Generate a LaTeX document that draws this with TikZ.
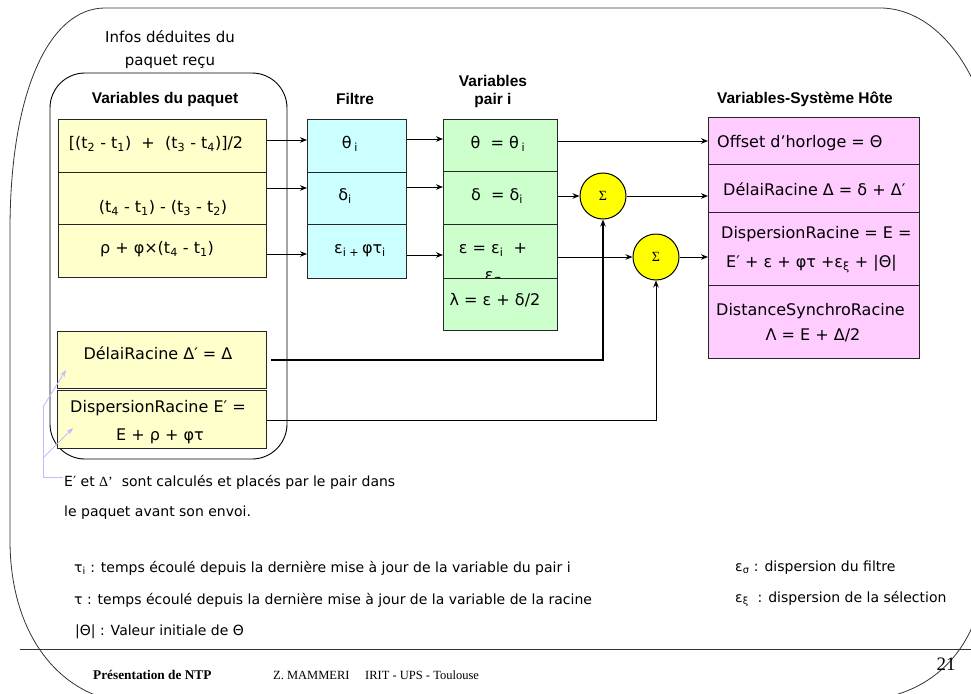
\documentclass[tikz,border=0pt]{standalone}
\usepackage{fontspec}
\setmainfont{DejaVu Sans}
\newfontfamily\hdfont{Liberation Sans}
\newfontfamily\tmfont{Liberation Serif}
\usetikzlibrary{arrows.meta}
\definecolor{ylw}{HTML}{FFFFCC}
\definecolor{cyn}{HTML}{CCFFFF}
\definecolor{grn}{HTML}{CCFFCC}
\definecolor{pnk}{HTML}{FFCCFF}
\definecolor{sumy}{HTML}{FFFF00}
\definecolor{lav}{HTML}{BDBDFF}
\newcommand\sbs[1]{\textsubscript{#1}}
\begin{document}
\begin{tikzpicture}[x=1pt,y=-1pt,
  cell/.style={draw=black!85, line width=1.1pt, anchor=north west, inner sep=0pt},
  tx/.style={inner sep=0pt, text height=11.2pt, text depth=0pt, font=\fontsize{16}{19}\selectfont},
  note/.style={inner sep=0pt, text height=10pt, text depth=0pt, anchor=west, font=\fontsize{14}{17}\selectfont},
  hd/.style={inner sep=0pt, text height=11pt, text depth=0pt, font=\hdfont\bfseries\fontsize{15.5}{18}\selectfont},
  sumnode/.style={circle, draw=black, line width=1pt, fill=sumy, minimum size=46pt, inner sep=0pt, font=\tmfont\fontsize{14}{16}\selectfont},
  arr/.style={-{Stealth[length=7pt,width=5.5pt]}, line width=0.9pt},
  lavarr/.style={draw=lav, line width=0.9pt, -{Stealth[length=7pt,width=5pt]}},
  frame/.style={draw=black!80, line width=0.8pt},
  foot/.style={anchor=west, inner sep=0pt, text height=9pt, text depth=0pt}]
\useasboundingbox (0,0) rectangle (971,693);

% slide frame and footer rule
\draw[frame] (10,230) .. controls (10,90) and (50,8) .. (105,8) -- (880,8)
  .. controls (920,8) and (955,40) .. (975,85);
\draw[frame] (10,230) -- (10,540) .. controls (10,620) and (45,675) .. (95,695);
\draw[frame] (975,620) .. controls (960,660) and (930,685) .. (895,695);
\draw[frame] (20,649) -- (971,649);

% packet enclosure
\node[tx, font=\fontsize{15}{18}\selectfont] (infoA) at (170,37) {Infos déduites du};
\node[tx, font=\fontsize{15}{18}\selectfont] (infoB) at (170,60) {paquet reçu};
\draw[line width=0.9pt, rounded corners=35pt] (50,73) rectangle (287,459);

% column headers
\node[hd] (hpaq) at (165,98) {Variables du paquet};
\node[hd] (hfil) at (355,99) {Filtre};
\node[hd] (hpa1) at (493,81) {Variables};
\node[hd] (hpa2) at (493,99) {pair i};
\node[hd] (hsys) at (805,98) {Variables-Système Hôte};

% packet variables
\node[cell, fill=ylw, minimum width=208pt, minimum height=53pt] (y1) at (58,119) {};
\node[cell, fill=ylw, minimum width=208pt, minimum height=52pt] (y2) at (58,172) {};
\node[cell, fill=ylw, minimum width=208pt, minimum height=53pt] (y3) at (58,224) {};
\node[tx] (ty1) at (156,143) {[(t\sbs{2} - t\sbs{1})\ \ +\ \ (t\sbs{3} - t\sbs{4})]/2};
\node[tx] (ty2) at (163,207) {(t\sbs{4} - t\sbs{1}) - (t\sbs{3} - t\sbs{2})};
\node[tx] (ty3) at (157,248) {ρ + φ×(t\sbs{4} - t\sbs{1})};

\node[cell, fill=ylw, minimum width=209pt, minimum height=57pt] (ya) at (57,331) {};
\node[cell, fill=ylw, minimum width=209pt, minimum height=58pt] (yb) at (57,390) {};
\node[tx] (tya) at (158,354) {DélaiRacine Δ′ = Δ};
\node[tx] (tyb1) at (158,407) {DispersionRacine E′ =};
\node[tx] (tyb2) at (160,435) {E + ρ + φτ};

% filter
\node[cell, fill=cyn, minimum width=99pt, minimum height=53pt] (c1) at (307,119) {};
\node[cell, fill=cyn, minimum width=99pt, minimum height=52pt] (c2) at (307,172) {};
\node[cell, fill=cyn, minimum width=99pt, minimum height=54pt] (c3) at (307,224) {};
\node[tx] (tc1) at (350,143) {θ\,\sbs{i}};
\node[tx] (tc2) at (345,195) {δ\sbs{i}};
\node[tx] (tc3) at (360,248) {ε\sbs{i +}\,φτ\sbs{i}};

% peer variables
\node[cell, fill=grn, minimum width=114pt, minimum height=52pt] (g1) at (443,119) {};
\node[cell, fill=grn, minimum width=114pt, minimum height=53pt] (g2) at (443,171) {};
\node[cell, fill=grn, minimum width=114pt, minimum height=54pt] (g3) at (443,224) {};
\node[tx] (tg1) at (498,143) {θ\ \ = θ\,\sbs{i}};
\node[tx] (tg2) at (497,195) {δ\ \ = δ\sbs{i}};
\node[tx] (tg3) at (493,248) {ε = ε\sbs{i}\ \ +};
\node[tx] (tg3b) at (493,275) {ε\sbs{σ}};
\node[cell, fill=grn, minimum width=114pt, minimum height=52pt] (g4) at (443,278) {};
\node[tx] (tg4) at (495,300) {λ = ε + δ/2};

% host system variables
\node[cell, fill=pnk, minimum width=211pt, minimum height=47pt] (p1) at (708,117) {};
\node[cell, fill=pnk, minimum width=211pt, minimum height=48pt] (p2) at (708,164) {};
\node[cell, fill=pnk, minimum width=211pt, minimum height=73pt] (p3) at (708,212) {};
\node[cell, fill=pnk, minimum width=211pt, minimum height=73pt] (p4) at (708,285) {};
\node[tx, anchor=west] (tp1) at (717,142) {Offset d’horloge = Θ};
\node[tx, anchor=west] (tp2) at (723,190) {DélaiRacine Δ = δ + Δ′};
\node[tx, anchor=west] (tp3a) at (721,233) {DispersionRacine = E =};
\node[tx, anchor=west] (tp3b) at (726,262) {E′ + ε + φτ +ε\sbs{ξ} + |Θ|};
\node[tx, anchor=west] (tp4a) at (716,310) {DistanceSynchroRacine};
\node[tx] (tp4b) at (813,335) {Λ = E + Δ/2};

% summing points
\node[sumnode] (s1) at (603,196) {Σ};
\node[sumnode] (s2) at (656,257) {Σ};

% data flow
\draw[arr] (y1.east |- 0,140) -- (c1.west |- 0,140);
\draw[arr] (y2.east |- 0,188) -- (c2.west |- 0,188);
\draw[arr] (y3.east |- 0,254) -- (c3.west |- 0,254);
\draw[arr] (c1.east |- 0,139) -- (g1.west |- 0,139);
\draw[arr] (c2.east |- 0,187) -- (g2.west |- 0,187);
\draw[arr] (c3.east |- 0,255) -- (g3.west |- 0,255);
\draw[arr] (g1.east |- 0,141) -- (p1.west |- 0,141);
\draw[arr] (g2.east |- s1) -- (s1.west);
\draw[arr] (s1.east) -- (p2.west |- s1);
\draw[arr] (g3.east |- s2) -- (s2.west);
\draw[arr] (s2.east) -- (p3.west |- s2);
\draw[arr, line width=2pt, shorten <=4pt] (ya.east |- 0,360) -- (s1 |- 0,360) -- (s1.south);
\draw[arr] (yb.east |- 0,420) -- (s2 |- 0,420) -- (s2.south);

% note on the peer-computed values
\coordinate (lv0) at (63,477);
\coordinate (lv1) at (43,477);
\coordinate (lv2) at (43,407);
\coordinate (lv3) at (43,458);
\coordinate (lvA) at (66,370);
\coordinate (lvB) at (73,428);
\draw[draw=lav, line width=0.9pt] (lv0) -- (lv1) -- (lv2);
\draw[lavarr] (lv2) -- (lvA);
\draw[lavarr] (lv3) -- (lvB);
\node[note] (n1) at (64,481) {E′ et {\tmfont Δ’}\ \ sont calculés et placés par le pair dans};
\node[note] (n2) at (64,511) {le paquet avant son envoi.};

% legend
\node[note] (l1) at (74,567) {τ\sbs{i} : temps écoulé depuis la dernière mise à jour de la variable du pair i};
\node[note] (l2) at (74,599) {τ : temps écoulé depuis la dernière mise à jour de la variable de la racine};
\node[note] (l3) at (75,630) {|Θ| : Valeur initiale de Θ};
\node[note] (l4) at (735,566) {ε\sbs{σ} : dispersion du filtre};
\node[note] (l5) at (735,597) {ε\sbs{ξ}\ \ : dispersion de la sélection};

% footer
\node[foot, font=\tmfont\bfseries\fontsize{13.3}{16}\selectfont] (f1) at (93,675) {Présentation de NTP};
\node[foot, font=\tmfont\fontsize{12.5}{15}\selectfont] (f2) at (273,675) {Z. MAMMERI};
\node[foot, font=\tmfont\fontsize{12.5}{15}\selectfont] (f3) at (365,675) {IRIT - UPS - Toulouse};
\node[inner sep=0pt, font=\tmfont\fontsize{19}{22}\selectfont] (f4) at (946,664) {21};
\end{tikzpicture}
\end{document}
